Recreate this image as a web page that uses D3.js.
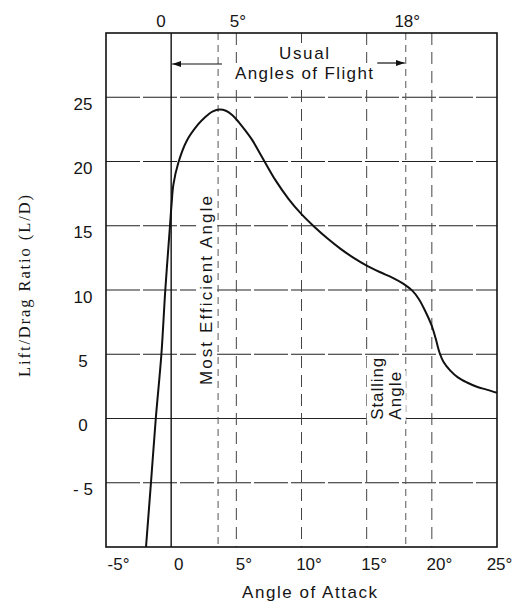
<!DOCTYPE html>
<html>
<head>
<meta charset="utf-8">
<script src="https://cdn.jsdelivr.net/npm/d3@7"></script>
<style>
  html, body { margin: 0; padding: 0; background: #fff; }
  svg { display: block; }
  text { font-family: "Liberation Sans", Arial, sans-serif; fill: #151515; }
</style>
</head>
<body>
<svg id="chart" width="515" height="612"></svg>
<script>
// Lift/drag ratio of a wing section against angle of attack (degrees)
const angles   = [-1.93, -1.55, -1.18, -0.75, -0.45, -0.09, 0.04, 0.17, 0.55, 1.19, 2.08, 2.6, 3.2, 3.7, 4.2, 4.7, 5.2, 5.7, 6.2, 7.0, 8.0, 9.0, 10.0, 11.0, 12.0, 13.0, 14.0, 15.0, 16.0, 17.0, 17.8, 18.5, 19.0, 19.5, 20.0, 20.3, 20.6, 20.9, 21.4, 22.0, 22.7, 23.5, 24.2, 25.0];
const liftDrag = [-10, -5, 0, 5, 10, 15, 16.8, 18.2, 19.9, 21.6, 22.9, 23.45, 23.9, 24.05, 23.95, 23.6, 23.05, 22.4, 21.7, 20.3, 18.55, 17.1, 15.9, 14.9, 14.0, 13.2, 12.5, 11.9, 11.4, 10.95, 10.5, 9.95, 9.3, 8.35, 7.2, 6.2, 5.1, 4.4, 3.75, 3.2, 2.8, 2.45, 2.25, 2.0];

const yTickValues = [-5, 0, 5, 10, 15, 20, 25];
const yTickLabels = ["- 5", "0", "5", "10", "15", "20", "25"];
const xTickValues = [-5, 0, 5, 10, 15, 20, 25];
const xTickLabels = ["-5°", "0", "5°", "10°", "15°", "20°", "25°"];
const topTickValues = [0, 5, 18];
const topTickLabels = ["0", "5°", "18°"];

const mostEfficientAngle = 3.6;
const stallingAngle = 18;
const usualRange = [0, 18];

const svg = d3.select("#chart");
const margin = { top: 33, right: 18, bottom: 65, left: 106 };
const width = 515 - margin.left - margin.right;
const height = 612 - margin.top - margin.bottom;

const x = d3.scaleLinear().domain([-5, 25]).range([0, width]);
const y = d3.scaleLinear().domain([-10, 30]).range([height, 0]);

const g = svg.append("g").attr("transform", `translate(${margin.left},${margin.top})`);

// horizontal grid: long dashes, the zero line solid
g.append("g").selectAll("line").data(yTickValues).join("line")
  .attr("x1", 0).attr("x2", width)
  .attr("y1", d => y(d)).attr("y2", d => y(d))
  .attr("stroke", "#222").attr("stroke-width", 1.2)
  .attr("stroke-dasharray", d => d === 0 ? null : "34,3");

// vertical grid: dashed, the zero line solid
g.append("g").selectAll("line").data(xTickValues.filter(v => v > -5 && v < 25)).join("line")
  .attr("x1", d => x(d)).attr("x2", d => x(d))
  .attr("y1", 0).attr("y2", height)
  .attr("stroke", d => d === 0 ? "#111" : "#444")
  .attr("stroke-width", d => d === 0 ? 1.4 : 1)
  .attr("stroke-dasharray", d => d === 0 ? null : "12,7");

// most efficient and stalling angle markers
g.append("g").selectAll("line").data([mostEfficientAngle, stallingAngle]).join("line")
  .attr("x1", d => x(d)).attr("x2", d => x(d))
  .attr("y1", 0).attr("y2", height)
  .attr("stroke", "#555").attr("stroke-width", 1)
  .attr("stroke-dasharray", "7,5");

// white backing behind annotation text so grid lines break around it
function backing(sel, pad) {
  sel.each(function () {
    const b = this.getBBox();
    d3.select(this.parentNode).insert("rect", () => this)
      .attr("x", b.x - pad).attr("y", b.y - pad)
      .attr("width", b.width + 2 * pad).attr("height", b.height + 2 * pad)
      .attr("transform", d3.select(this).attr("transform"))
      .attr("fill", "#fff");
  });
}

const notes = g.append("g").attr("font-size", 17);

// "Usual Angles of Flight" with arrows spanning the range
const usualX = 198;
const usual = notes.append("text").attr("x", usualX).attr("y", 26)
  .attr("text-anchor", "middle").attr("textLength", 50).text("Usual");
const flight = notes.append("text").attr("x", usualX).attr("y", 46)
  .attr("text-anchor", "middle").attr("textLength", 138).text("Angles of Flight");
backing(usual, 1);
backing(flight, 1);

const defs = svg.append("defs");
defs.append("marker").attr("id", "head")
  .attr("markerUnits", "userSpaceOnUse")
  .attr("markerWidth", 9).attr("markerHeight", 6)
  .attr("refX", 9).attr("refY", 3).attr("orient", "auto")
  .append("path").attr("d", "M0,0L9,3L0,6Z").attr("fill", "#111");

const fb = flight.node().getBBox();
notes.append("line")
  .attr("x1", fb.x - 13).attr("x2", x(usualRange[0]) + 1)
  .attr("y1", 31).attr("y2", 31)
  .attr("stroke", "#111").attr("stroke-width", 1.2).attr("marker-end", "url(#head)");
notes.append("line")
  .attr("x1", fb.x + fb.width + 4).attr("x2", x(usualRange[1]) - 1)
  .attr("y1", 30).attr("y2", 30)
  .attr("stroke", "#111").attr("stroke-width", 1.2).attr("marker-end", "url(#head)");

// rotated labels on the marker lines
const eff = notes.append("text")
  .attr("transform", `translate(${x(mostEfficientAngle) - 6},${y(2.6)}) rotate(-90)`)
  .attr("textLength", 189).text("Most Efficient Angle");
backing(eff, 1);

const stallBase = y(-0.1);
const stall1 = notes.append("text")
  .attr("transform", `translate(${x(stallingAngle) - 23},${stallBase}) rotate(-90)`)
  .attr("textLength", 62).text("Stalling");
const stall2 = notes.append("text")
  .attr("transform", `translate(${x(stallingAngle) - 5},${stallBase}) rotate(-90)`)
  .attr("textLength", 48).text("Angle");
backing(stall1, 1);
backing(stall2, 1);

// the lift/drag curve
const points = angles.map((a, i) => [a, liftDrag[i]]);
g.append("path")
  .datum(points)
  .attr("fill", "none")
  .attr("stroke", "#111")
  .attr("stroke-width", 2)
  .attr("stroke-linejoin", "round")
  .attr("d", d3.line().x(d => x(d[0])).y(d => y(d[1])).curve(d3.curveCatmullRom.alpha(0.5)));

// frame
g.append("rect").attr("x", 0).attr("y", 0).attr("width", width).attr("height", height)
  .attr("fill", "none").attr("stroke", "#111").attr("stroke-width", 1.6);

// axes
const leftAxis = g.append("g")
  .call(d3.axisLeft(y).tickValues(yTickValues).tickFormat((d, i) => yTickLabels[i]).tickSize(0));
leftAxis.select(".domain").remove();
leftAxis.attr("font-size", 17).attr("font-family", null);
leftAxis.selectAll("text").attr("x", -23).attr("y", 12).attr("dy", 0).attr("text-anchor", "middle");

const bottomAxis = g.append("g").attr("transform", `translate(0,${height})`)
  .call(d3.axisBottom(x).tickValues(xTickValues).tickFormat((d, i) => xTickLabels[i]).tickSize(0));
bottomAxis.select(".domain").remove();
bottomAxis.attr("font-size", 17).attr("font-family", null);
bottomAxis.selectAll("text")
  .attr("y", 23).attr("dy", 0)
  .attr("dx", d => d === -5 ? 12 : d === 25 ? 2 : 7)
  .attr("text-anchor", "middle");

const topAxis = g.append("g")
  .call(d3.axisTop(x).tickValues(topTickValues).tickFormat((d, i) => topTickLabels[i]).tickSize(0));
topAxis.select(".domain").remove();
topAxis.attr("font-size", 17).attr("font-family", null);
topAxis.selectAll("text")
  .attr("y", -6).attr("dy", 0)
  .attr("text-anchor", d => d === 0 ? "end" : "middle")
  .attr("dx", d => d === 0 ? -6 : 1);

// axis titles
svg.append("text")
  .attr("x", 309.5).attr("y", 598)
  .attr("text-anchor", "middle").attr("font-size", 17).attr("textLength", 135)
  .text("Angle of Attack");

svg.append("text")
  .attr("transform", "translate(30,286) rotate(-90)")
  .attr("text-anchor", "middle")
  .style("font-family", "'Liberation Serif', 'Times New Roman', serif")
  .attr("font-size", 16.5).attr("textLength", 182)
  .text("Lift/Drag Ratio (L/D)");
</script>
</body>
</html>
